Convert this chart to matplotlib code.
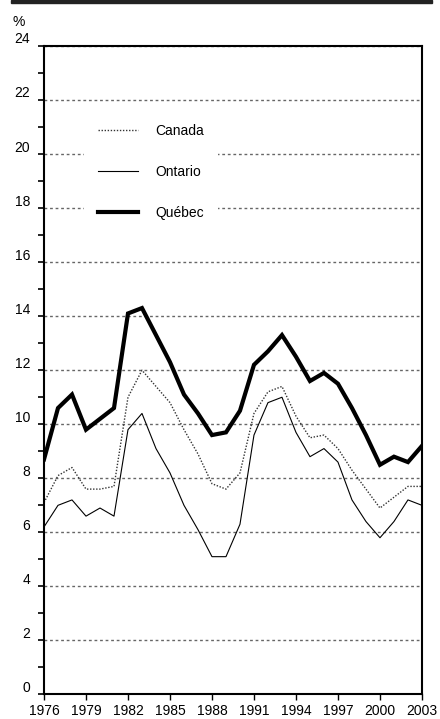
import matplotlib
matplotlib.use("Agg")
import matplotlib.pyplot as plt
import matplotlib.transforms as mtransforms
from matplotlib.patches import Rectangle

plt.rcParams['font.family'] = ['Liberation Sans', 'DejaVu Sans']

# Unemployment rate (%)
years = list(range(1976, 2004))
canada = [7.1, 8.1, 8.4, 7.6, 7.6, 7.7, 11.0, 12.0, 11.4, 10.8, 9.8, 8.9, 7.8, 7.6,
          8.2, 10.4, 11.2, 11.4, 10.3, 9.5, 9.6, 9.1, 8.3, 7.6, 6.9, 7.3, 7.7, 7.7]
ontario = [6.2, 7.0, 7.2, 6.6, 6.9, 6.6, 9.8, 10.4, 9.1, 8.2, 7.0, 6.1, 5.1, 5.1,
           6.3, 9.6, 10.8, 11.0, 9.7, 8.8, 9.1, 8.6, 7.2, 6.4, 5.8, 6.4, 7.2, 7.0]
quebec = [8.7, 10.6, 11.1, 9.8, 10.2, 10.6, 14.1, 14.3, 13.3, 12.3, 11.1, 10.4, 9.6, 9.7,
          10.5, 12.2, 12.7, 13.3, 12.5, 11.6, 11.9, 11.5, 10.6, 9.6, 8.5, 8.8, 8.6, 9.2]
y_ticks = list(range(0, 25, 2))
x_ticks = list(range(1976, 2004, 3))

fig = plt.figure(figsize=(4.4, 7.19), dpi=100)
ax = fig.add_axes([0.1, 0.0341, 0.859, 0.902])

# dark header bar
fig.patches.append(Rectangle((11 / 440, 1 - 3 / 719), 421 / 440, 3 / 719,
                             transform=fig.transFigure, color='#222222', zorder=5))

ax.plot(years, canada, color='#333333', lw=1.0, ls=(0, (1, 1.2)), label='Canada')
ax.plot(years, ontario, color='black', lw=0.8, label='Ontario')
ax.plot(years, quebec, color='black', lw=3.0, label='Québec', solid_joinstyle='miter')

ax.set_xlim(1976, 2003)
ax.set_ylim(0, 24)

for v in y_ticks[1:]:
    ax.axhline(v, color='#666666', lw=1.0, ls=(0, (2, 2)), zorder=0)

ax.set_yticks(y_ticks)
ax.set_yticks(range(0, 25), minor=True)
ax.set_xticks(x_ticks)
ax.tick_params(axis='y', which='both', direction='out', length=4, width=1.2,
               labelsize=10, pad=6)
ax.tick_params(axis='x', direction='out', length=4, width=1.0, labelsize=10, pad=3)

offset = mtransforms.ScaledTranslation(0, 8 / 100, fig.dpi_scale_trans)
for lbl in ax.get_yticklabels():
    lbl.set_transform(lbl.get_transform() + offset)

for side in ['left', 'bottom', 'top', 'right']:
    ax.spines[side].set_linewidth(1.5)

fig.text(19 / 440, 1 - 22 / 719, '%', fontsize=10, ha='center', va='center')

leg = ax.legend(loc='upper left', bbox_to_anchor=(0.106, 0.901), borderaxespad=0,
                frameon=True, fontsize=10, handlelength=2.9, handletextpad=1.2,
                labelspacing=1.95, borderpad=1.0)
leg.get_frame().set_facecolor('white')
leg.get_frame().set_edgecolor('none')
leg.get_frame().set_alpha(1)
leg.get_frame().set_boxstyle('square', pad=0)

fig.savefig('out.png', dpi=100)
